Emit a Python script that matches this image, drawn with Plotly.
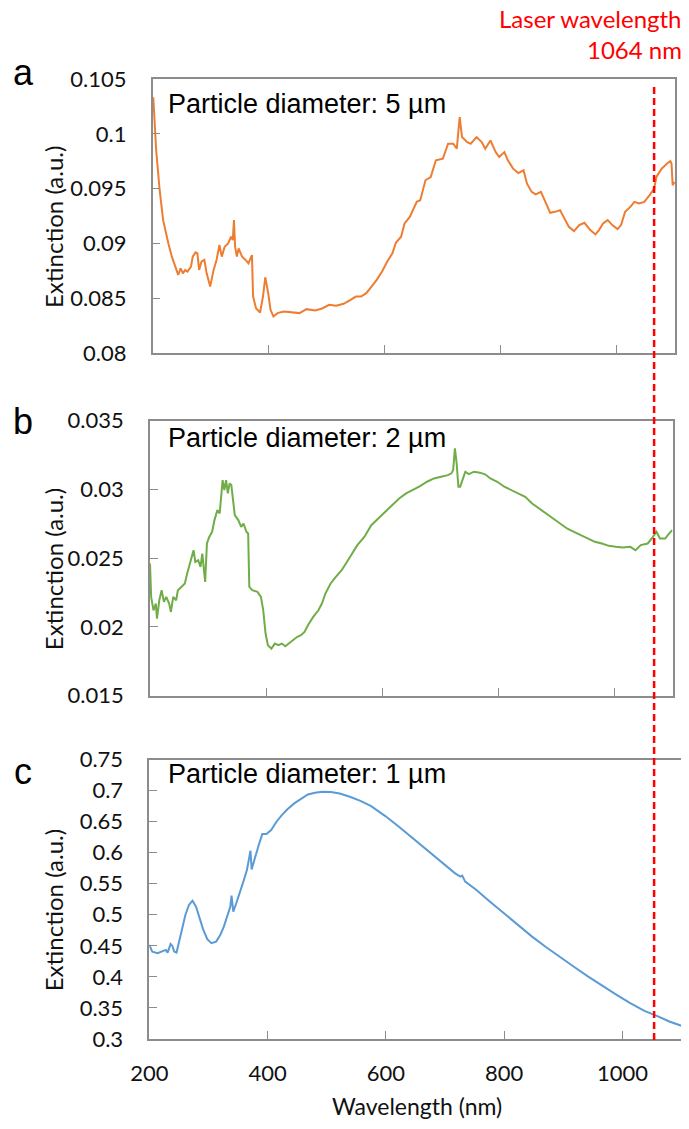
import plotly.graph_objects as go

# --- data ----------------------------------------------------------------
wl_5um = [201, 206, 212, 218, 227, 233, 239, 244, 248, 252, 256, 260, 266, 269, 274, 277,
          280, 284, 289, 293, 299, 305, 310, 315, 319, 324, 330, 335, 338, 340, 342, 345,
          348, 354, 360, 365, 371, 373, 378, 385, 390, 394, 399, 403, 408, 415, 426, 438,
          453, 465, 480, 492, 504, 516, 529, 541, 550, 559, 568, 577, 586, 595, 604, 613,
          619, 628, 634, 643, 655, 661, 670, 679, 688, 700, 709, 718, 724, 729, 733, 742,
          748, 758, 767, 773, 782, 791, 797, 806, 812, 821, 830, 839, 845, 853, 860, 869,
          878, 885, 893, 902, 908, 917, 926, 935, 944, 954, 963, 969, 976, 984, 992, 1001,
          1007, 1014, 1023, 1030, 1038, 1047, 1056, 1064, 1068, 1077, 1086, 1092, 1094, 1096, 1099]
ext_5um = [0.10333, 0.09849, 0.09485, 0.09212, 0.0900, 0.08879, 0.08788, 0.08712, 0.08773,
           0.08727, 0.08758, 0.08742, 0.08788, 0.08879, 0.08918, 0.08909, 0.08758, 0.08833,
           0.08849, 0.08727, 0.08606, 0.08758, 0.08849, 0.08985, 0.08879, 0.0897, 0.0900,
           0.09061, 0.0903, 0.09212, 0.0897, 0.08879, 0.08955, 0.08879, 0.08849, 0.08818,
           0.08894, 0.08515, 0.08409, 0.0837, 0.08515, 0.08691, 0.08546, 0.08394, 0.08333,
           0.08364, 0.08379, 0.0837, 0.08364, 0.084, 0.08388, 0.08406, 0.0844, 0.08431,
           0.08449, 0.08485, 0.08515, 0.08515, 0.08546, 0.08606, 0.08667, 0.08742, 0.08833,
           0.08909, 0.09006, 0.09061, 0.09182, 0.09242, 0.09379, 0.09394, 0.09576, 0.09606,
           0.09758, 0.09773, 0.09909, 0.09909, 0.09864, 0.10152, 0.0997, 0.09924, 0.09909,
           0.0997, 0.09924, 0.09864, 0.09939, 0.09833, 0.09788, 0.09833, 0.09758, 0.09682,
           0.09642, 0.09667, 0.09545, 0.0947, 0.09448, 0.0947, 0.09364, 0.09279, 0.09288,
           0.09303, 0.09242, 0.09152, 0.09112, 0.09167, 0.09188, 0.09121, 0.09082, 0.09121,
           0.09182, 0.09212, 0.09167, 0.0913, 0.09167, 0.09288, 0.09333, 0.09379, 0.09364,
           0.09379, 0.09439, 0.095, 0.09606, 0.09682, 0.09727, 0.09752, 0.09727, 0.0953, 0.09561]

wl_2um = [200, 202, 206, 210, 212, 216, 220, 224, 228, 233, 236, 240, 245, 248, 254, 260,
          264, 270, 275, 278, 283, 287, 290, 295, 298, 302, 307, 311, 316, 320, 325, 328,
          331, 334, 337, 340, 343, 346, 352, 357, 361, 366, 369, 371, 376, 385, 391, 395,
          399, 403, 409, 415, 421, 427, 433, 439, 445, 453, 460, 466, 472, 481, 490, 496,
          502, 511, 520, 530, 539, 548, 557, 569, 581, 593, 605, 617, 629, 641, 653, 665,
          677, 689, 701, 713, 719, 722, 725, 728, 731, 734, 739, 743, 749, 758, 768, 777,
          786, 798, 810, 822, 834, 846, 858, 870, 882, 894, 906, 918, 930, 942, 954, 966,
          978, 990, 1002, 1014, 1027, 1036, 1045, 1057, 1066, 1072, 1078, 1087, 1093, 1099]
ext_2um = [0.02461, 0.02219, 0.02121, 0.0217, 0.02061, 0.02194, 0.02267, 0.02182, 0.02219,
           0.0217, 0.02109, 0.02219, 0.02194, 0.02267, 0.02291, 0.02316, 0.02388, 0.02473,
           0.02558, 0.02473, 0.02485, 0.02437, 0.02534, 0.02328, 0.02607, 0.02655, 0.02692,
           0.02777, 0.0285, 0.02825, 0.03068, 0.02995, 0.03068, 0.02971, 0.03044, 0.03032,
           0.02898, 0.02813, 0.02777, 0.02728, 0.02752, 0.02692, 0.0268, 0.02291, 0.02267,
           0.02255, 0.02219, 0.02121, 0.01952, 0.01867, 0.01842, 0.01879, 0.01867, 0.01879,
           0.01859, 0.01879, 0.01903, 0.01927, 0.0194, 0.01964, 0.02012, 0.02073, 0.02121,
           0.0217, 0.02243, 0.02316, 0.02364, 0.02413, 0.02473, 0.02534, 0.02595, 0.02655,
           0.0274, 0.02789, 0.02837, 0.02886, 0.02934, 0.02971, 0.02995, 0.03024, 0.03056,
           0.0308, 0.03092, 0.03104, 0.03117, 0.03141, 0.03299, 0.03189, 0.0302, 0.0302,
           0.0308, 0.03129, 0.03112, 0.03129, 0.03122, 0.0311, 0.0308, 0.03056, 0.0302,
           0.02995, 0.02971, 0.02947, 0.02898, 0.02862, 0.02825, 0.02789, 0.02752, 0.02716,
           0.02692, 0.02668, 0.02643, 0.02619, 0.02607, 0.0259, 0.02583, 0.02578, 0.02583,
           0.02558, 0.02595, 0.02607, 0.02655, 0.02692, 0.02643, 0.02643, 0.02675, 0.02704]

wl_1um = [200, 205, 214, 223, 228, 231, 236, 239, 242, 246, 250, 255, 261, 267, 273, 279,
          285, 291, 298, 305, 313, 320, 326, 332, 337, 339, 342, 347, 353, 359, 365, 369,
          371, 373, 378, 385, 391, 398, 406, 415, 424, 433, 445, 457, 468, 480, 492, 507,
          522, 539, 557, 575, 599, 622, 646, 670, 693, 717, 726, 729, 734, 753, 776, 800,
          824, 847, 871, 895, 919, 942, 966, 990, 1013, 1037, 1058, 1079, 1100]
ext_1um = [0.4515, 0.4407, 0.438, 0.4407, 0.4434, 0.4391, 0.4531, 0.4499, 0.4407, 0.4391,
           0.4542, 0.4756, 0.4997, 0.5158, 0.5227, 0.513, 0.4943, 0.4766, 0.4606, 0.4542,
           0.4568, 0.4675, 0.4809, 0.497, 0.5131, 0.5308, 0.5051, 0.5185, 0.5345, 0.5533,
           0.572, 0.5908, 0.6031, 0.5731, 0.5908, 0.6123, 0.6299, 0.6299, 0.6364, 0.6498,
           0.6605, 0.6696, 0.6793, 0.6873, 0.6937, 0.6964, 0.698, 0.6975, 0.6953, 0.69,
           0.6835, 0.675, 0.6589, 0.6417, 0.623, 0.6042, 0.5854, 0.5667, 0.5613, 0.563,
           0.5533, 0.5399, 0.5211, 0.5024, 0.4836, 0.4648, 0.4477, 0.4311, 0.4155, 0.4005,
           0.3855, 0.371, 0.3577, 0.3453, 0.3373, 0.3282, 0.3212]

panel_letters = ["a", "b", "c"]
diameters = ["5 µm", "2 µm", "1 µm"]
y_ranges = [(0.08, 0.105), (0.015, 0.035), (0.3, 0.75)]
y_dticks = [0.005, 0.005, 0.05]
x_ticks = [200, 400, 600, 800, 1000]
laser_nm = 1064

# the page body has an 8px margin, so the figure starts at (8, 8) in the window
OFF = 8
W, H = 689 - OFF, 1129 - OFF


def px_x(px):
    return (px - OFF) / W


def px_y(py):
    return 1 - (py - OFF) / H


# panel boxes in window pixels: left, right, top, bottom
boxes = [(152.7, 675.0, 79.0, 353.0),
         (150.0, 672.7, 420.7, 695.7),
         (149.3, 681.7, 759.5, 1039.0)]
colors = ["#ED7D31", "#70AD47", "#5B9BD5"]
series = [(wl_5um, ext_5um), (wl_2um, ext_2um), (wl_1um, ext_1um)]

sans = "Lato, 'Open Sans', sans-serif"
tick_font = dict(family=sans, size=22, color="#111111")
axis_col = "#8c8c8c"

fig = go.Figure()
layout = {}
annotations = []

for i, ((wl, ext), col, box) in enumerate(zip(series, colors, boxes)):
    sfx = "" if i == 0 else str(i + 1)
    fig.add_trace(go.Scatter(x=wl, y=ext, mode="lines", line=dict(color=col, width=2),
                             xaxis="x" + sfx, yaxis="y" + sfx, showlegend=False,
                             hoverinfo="skip"))
    l, r, t, b = box
    layout["xaxis" + sfx] = dict(
        domain=[px_x(l), px_x(r)], anchor="y" + sfx, range=[200, 1100],
        tickvals=x_ticks, ticks="inside", ticklen=8, tickcolor=axis_col,
        showticklabels=(i == 2), tickfont=tick_font, ticklabelstandoff=14,
        showline=True, linecolor=axis_col, linewidth=1.5, mirror=True,
        showgrid=False, zeroline=False, fixedrange=True, automargin=False,
    )
    y0, y1 = y_ranges[i]
    layout["yaxis" + sfx] = dict(
        domain=[px_y(b), px_y(t)], anchor="x" + sfx, range=[y0, y1],
        dtick=y_dticks[i], tick0=y0, ticks="inside", ticklen=8, tickcolor=axis_col,
        tickfont=tick_font, ticklabelstandoff=20,
        showline=True, linecolor=axis_col, linewidth=1.5, mirror=True,
        showgrid=False, zeroline=False, fixedrange=True, automargin=False,
    )
    # panel letter
    annotations.append(dict(text=panel_letters[i], xref="paper", yref="paper",
                            x=px_x(23), y=px_y([73, 422, 771][i]),
                            xanchor="center", yanchor="middle", showarrow=False,
                            font=dict(family="Liberation Sans, Arial", size=36, color="black")))
    # particle diameter label
    annotations.append(dict(text="Particle diameter: " + diameters[i], xref="paper", yref="paper",
                            x=px_x(166), y=px_y([104, 438, 774][i]),
                            xanchor="left", yanchor="middle", showarrow=False,
                            font=dict(family="Liberation Sans, Arial", size=27, color="black")))
    # y-axis title
    annotations.append(dict(text="Extinction (a.u.)", xref="paper", yref="paper",
                            x=px_x(53), y=px_y((t + b) / 2 + 11), textangle=-90,
                            xanchor="center", yanchor="middle", showarrow=False,
                            font=dict(family=sans, size=24, color="#111111")))

annotations.append(dict(text="Wavelength (nm)", xref="paper", yref="paper",
                        x=px_x(417), y=px_y(1106), xanchor="center", yanchor="middle",
                        showarrow=False, font=dict(family=sans, size=23, color="#111111")))
for txt, yy in [("Laser wavelength", 19), (f"{laser_nm} nm", 49)]:
    annotations.append(dict(text=txt, xref="paper", yref="paper", x=px_x(683), y=px_y(yy),
                            xanchor="right", yanchor="middle", showarrow=False, borderpad=0,
                            font=dict(family=sans, size=24, color="#FF0000")))

fig.add_shape(type="line", xref="x", yref="paper", x0=laser_nm, x1=laser_nm,
              y0=px_y(1040), y1=px_y(83),
              line=dict(color="#FF0000", width=2.5, dash="7px,4px"))

fig.update_layout(
    width=W, height=H,
    margin=dict(l=0, r=0, t=0, b=0, autoexpand=False),
    paper_bgcolor="white", plot_bgcolor="white",
    annotations=annotations,
    **layout,
)

fig.write_html("out.html")
